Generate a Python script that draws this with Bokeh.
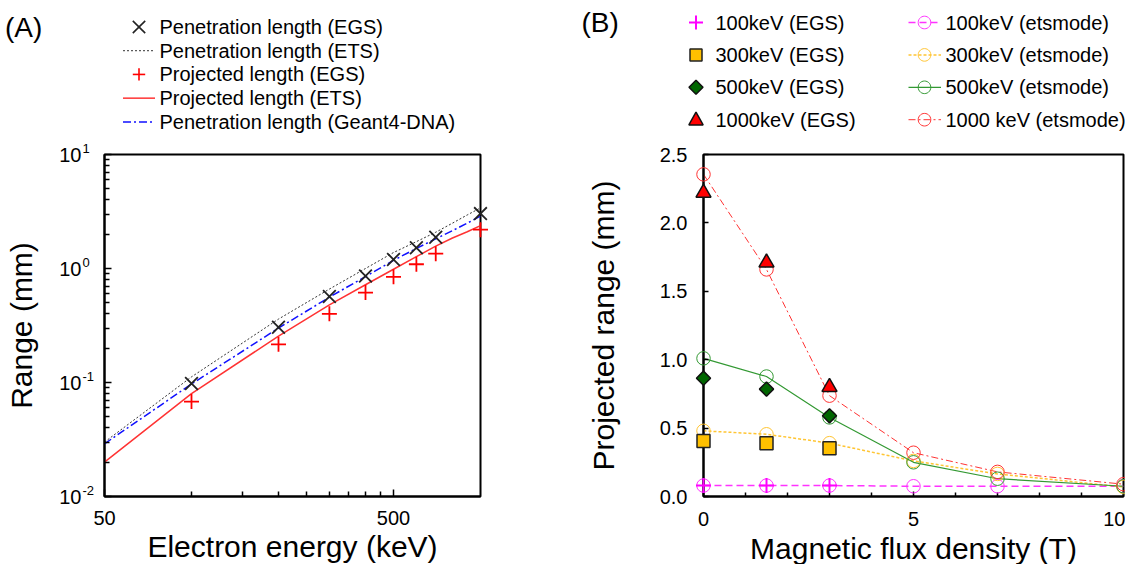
import math
from bokeh.plotting import figure
from bokeh.models import FixedTicker, PrintfTickFormatter, CustomJSTickFormatter
from bokeh.core.properties import value
from bokeh.layouts import row
from bokeh.embed import file_html
from bokeh.resources import INLINE

FONT = "Liberation Sans"

# ---------------- Panel A data ----------------
energy_pts = [100, 200, 300, 400, 500, 600, 700, 1000]
pen_egs = [0.098, 0.305, 0.567, 0.86, 1.20, 1.52, 1.88, 3.03]
proj_egs = [0.068, 0.216, 0.40, 0.615, 0.846, 1.09, 1.35, 2.19]

energy_line = [50, 100, 200, 300, 400, 500, 600, 700, 800, 900, 1000]
pen_ets = [0.030, 0.112, 0.36, 0.66, 1.0, 1.38, 1.72, 2.08, 2.5, 2.95, 3.4]
pen_g4 = [0.029, 0.097, 0.30, 0.56, 0.85, 1.18, 1.5, 1.82, 2.15, 2.5, 2.88]
proj_ets = [0.020, 0.080, 0.255, 0.48, 0.72, 0.985, 1.27, 1.57, 1.85, 2.1, 2.38]

a_xrange = (50, 1000)
a_yrange = (0.01, 10)
a_xticks = [50, 500]
a_xminor = [100, 150, 200, 250, 300, 350, 400, 450]
a_yexp = [-2, -1, 0, 1]
a_labels = ["Penetration length (EGS)", "Penetration length (ETS)", "Projected length (EGS)",
            "Projected length (ETS)", "Penetration length (Geant4-DNA)"]

# ---------------- Panel B data ----------------
field_ets = [0, 1.5, 3, 5, 7, 10]
ets_100 = [0.08, 0.08, 0.08, 0.075, 0.075, 0.075]
ets_300 = [0.48, 0.455, 0.39, 0.26, 0.165, 0.07]
ets_500 = [1.01, 0.877, 0.578, 0.25, 0.13, 0.075]
ets_1000 = [2.355, 1.66, 0.737, 0.32, 0.18, 0.09]

field_egs = [0, 1.5, 3]
egs_100 = [0.08, 0.08, 0.08]
egs_300 = [0.405, 0.39, 0.352]
egs_500 = [0.865, 0.785, 0.59]
egs_1000 = [2.22, 1.71, 0.80]

b_xrange = (0, 10)
b_yrange = (0, 2.5)
b_xticks = [0, 5, 10]
b_xminor = [1, 2, 3, 4, 6, 7, 8, 9]
b_yticks = [0, 0.5, 1.0, 1.5, 2.0, 2.5]
b_egs_labels = ["100keV (EGS)", "300keV (EGS)", "500keV (EGS)", "1000keV (EGS)"]
b_ets_labels = ["100keV (etsmode)", "300keV (etsmode)", "500keV (etsmode)", "1000 keV (etsmode)"]

# ---------------- styles ----------------
A_STYLES = {
    "pen_egs": dict(marker="x", size=18, line_color="#222222", line_width=1.8),
    "proj_egs": dict(marker="cross", size=15, line_color="#ff0000", line_width=1.8),
    "pen_ets": dict(line_color="#333333", line_dash="2 2", line_width=1),
    "g4": dict(line_color="#1010ff", line_dash="8 3 2 3", line_width=1.5),
    "proj_ets": dict(line_color="#ff3333", line_width=1.5),
}
B_EGS = [
    dict(marker="cross", size=15, line_color="#ff00ff", line_width=2),
    dict(marker="square", size=13, fill_color="#ffc000", line_color="#222222", line_width=1.5),
    dict(marker="square", size=10, angle=math.pi / 4, fill_color="#006600",
         line_color="#111111", line_width=1.5),
    dict(marker="triangle", size=15, fill_color="#ff0000", line_color="#111111", line_width=1.5),
]
B_ETS = [("#ff33ff", "7 4", 1.5), ("#ffc533", "3 2", 1.5),
         ("#339933", "solid", 1.2), ("#ff3333", "7 3 2 3", 1.0)]

# ---------------- layout (canvas pixels) ----------------
A_W, B_W, H = 572, 553, 564
A_BORDER = dict(left=104, right=92, top=151, bottom=67)
B_BORDER = dict(left=131, right=2, top=154, bottom=68)


def style_axes(p):
    p.xgrid.visible = False
    p.ygrid.visible = False
    p.outline_line_color = "black"
    p.outline_line_width = 2
    p.outline_line_alpha = 1
    for ax in (p.xaxis[0], p.yaxis[0]):
        ax.axis_line_width = 2
        ax.axis_line_color = "black"
        ax.major_tick_line_color = "black"
        ax.minor_tick_line_color = "black"
        ax.major_tick_line_width = 1.5
        ax.minor_tick_line_width = 1.5
        ax.major_tick_out = 0
        ax.minor_tick_out = 0
        ax.major_label_text_font = FONT
        ax.major_label_text_font_size = "20px"
        ax.major_label_text_color = "black"
        ax.axis_label_text_font = FONT
        ax.axis_label_text_font_size = "30px"
        ax.axis_label_text_font_style = "normal"
        ax.axis_label_text_color = "black"


def text(p, x, y, txt, size, align="left", baseline="middle", dx=0, dy=0):
    p.text(x=x, y=y, text=txt, x_offset=dx, y_offset=dy,
           text_font=value(FONT), text_font_size=value(size), text_color="black",
           text_align=align, text_baseline=baseline, level="overlay")


def make_mapper(width, border, xr, yr, xlog, ylog):
    """Canvas pixel -> data coordinate, used to draw the key outside the frame."""
    fw = width - border["left"] - border["right"]
    fh = H - border["top"] - border["bottom"]

    def conv(lo, hi, frac, log):
        if log:
            return 10 ** (math.log10(lo) + frac * (math.log10(hi) - math.log10(lo)))
        return lo + frac * (hi - lo)

    def fx(px):
        return conv(xr[0], xr[1], (px - border["left"]) / fw, xlog)

    def fy(py):
        return conv(yr[0], yr[1], (H - border["bottom"] - py) / fh, ylog)
    return fx, fy


def key_line(p, fx, fy, pts, **st):
    p.line([fx(x) for x, _ in pts], [fy(y) for _, y in pts], level="overlay", **st)


def key_poly(p, fx, fy, pts, **st):
    p.patch([fx(x) for x, _ in pts], [fy(y) for _, y in pts], level="overlay", **st)


def key_marker(p, fx, fy, cx, cy, marker, r, fill=None, line="#000000", lw=1.5):
    if marker == "x":
        key_line(p, fx, fy, [(cx - r, cy - r), (cx + r, cy + r)], line_color=line, line_width=lw)
        key_line(p, fx, fy, [(cx - r, cy + r), (cx + r, cy - r)], line_color=line, line_width=lw)
    elif marker == "cross":
        key_line(p, fx, fy, [(cx - r, cy), (cx + r, cy)], line_color=line, line_width=lw)
        key_line(p, fx, fy, [(cx, cy - r), (cx, cy + r)], line_color=line, line_width=lw)
    elif marker == "circle":
        pts = [(cx + r * math.cos(2 * math.pi * k / 28), cy + r * math.sin(2 * math.pi * k / 28))
               for k in range(29)]
        key_line(p, fx, fy, pts, line_color=line, line_width=lw)
    else:
        if marker == "square":
            pts = [(cx - r, cy - r), (cx + r, cy - r), (cx + r, cy + r), (cx - r, cy + r)]
        elif marker == "diamond":
            pts = [(cx, cy - r), (cx + r, cy), (cx, cy + r), (cx - r, cy)]
        else:  # triangle
            pts = [(cx, cy - r), (cx + r * 0.95, cy + r * 0.7), (cx - r * 0.95, cy + r * 0.7)]
        key_poly(p, fx, fy, pts, fill_color=fill, line_color=line, line_width=lw)


# ================= Panel A =================
pA = figure(width=A_W, height=H, x_axis_type="log", y_axis_type="log",
            x_range=a_xrange, y_range=a_yrange,
            output_backend="svg", toolbar_location=None,
            min_border_left=A_BORDER["left"], min_border_right=A_BORDER["right"],
            min_border_top=A_BORDER["top"], min_border_bottom=A_BORDER["bottom"])
style_axes(pA)
pA.xaxis.ticker = FixedTicker(ticks=a_xticks, minor_ticks=a_xminor)
pA.xaxis.formatter = PrintfTickFormatter(format="%d")
pA.xaxis.major_tick_in = 7
pA.xaxis.minor_tick_in = 5
pA.xaxis.major_label_standoff = 14

y_minor = [k * 10.0 ** e for e in a_yexp[:-1] for k in range(2, 10)]
pA.yaxis.ticker = FixedTicker(ticks=[10.0 ** e for e in a_yexp], minor_ticks=y_minor)
pA.yaxis.formatter = CustomJSTickFormatter(code="return '10';")
pA.yaxis.major_tick_in = 7
pA.yaxis.minor_tick_in = 5
pA.yaxis.major_label_standoff = 23
pA.yaxis.axis_label = "Range (mm)"
pA.yaxis.axis_label_standoff = 18

# exponents of the y tick labels
text(pA, [a_xrange[0]] * len(a_yexp), [10.0 ** e for e in a_yexp],
     [str(e) for e in a_yexp], "13px", dx=-22, dy=-6)

pA.line(energy_line, pen_ets, **A_STYLES["pen_ets"])
pA.line(energy_line, pen_g4, **A_STYLES["g4"])
pA.line(energy_line, proj_ets, **A_STYLES["proj_ets"])
pA.scatter(energy_pts, pen_egs, level="overlay", **A_STYLES["pen_egs"])
pA.scatter(energy_pts, proj_egs, level="overlay", **A_STYLES["proj_egs"])

fxA, fyA = make_mapper(A_W, A_BORDER, a_xrange, a_yrange, True, True)
text(pA, [fxA(292)], [fyA(548)], ["Electron energy (keV)"], "30px", align="center")
text(pA, [fxA(4.5)], [fyA(22.5)], ["(A)"], "28px")

# key for panel A
a_kinds = ["pen_egs", "pen_ets", "proj_egs", "proj_ets", "g4"]
for i, (kind, lab) in enumerate(zip(a_kinds, a_labels)):
    cy = 22 + 24 * i
    st = A_STYLES[kind]
    if "marker" in st:
        key_marker(pA, fxA, fyA, 138.5, cy, st["marker"], 6.2, line=st["line_color"],
                   lw=1.6)
    else:
        key_line(pA, fxA, fyA, [(122.5, cy), (154.5, cy)], **st)
    text(pA, [fxA(159)], [fyA(cy)], [lab], "20px")

# ================= Panel B =================
pB = figure(width=B_W, height=H, x_range=b_xrange, y_range=b_yrange,
            output_backend="svg", toolbar_location=None,
            min_border_left=B_BORDER["left"], min_border_right=B_BORDER["right"],
            min_border_top=B_BORDER["top"], min_border_bottom=B_BORDER["bottom"])
style_axes(pB)
pB.xaxis.ticker = FixedTicker(ticks=b_xticks, minor_ticks=b_xminor)
pB.xaxis.formatter = PrintfTickFormatter(format="%d")
pB.xaxis.major_tick_in = 5
pB.xaxis.minor_tick_in = 4
pB.xaxis.major_label_standoff = 15
pB.yaxis.ticker = FixedTicker(ticks=b_yticks, minor_ticks=[])
pB.yaxis.formatter = PrintfTickFormatter(format="%.1f")
pB.yaxis.major_tick_in = 5
pB.yaxis.major_label_standoff = 16
pB.yaxis.axis_label = "Projected range (mm)"
pB.yaxis.axis_label_standoff = 37

ets_vals = [ets_100, ets_300, ets_500, ets_1000]
egs_vals = [egs_100, egs_300, egs_500, egs_1000]

for vals, (col, dash, lw) in zip(ets_vals, B_ETS):
    pB.line(field_ets, vals, line_color=col, line_dash=dash, line_width=lw)
    pB.scatter(field_ets, vals, marker="circle", size=13.5, fill_color=None,
               line_color=col, line_width=1, level="overlay")
for vals, st in zip(egs_vals, B_EGS):
    pB.scatter(field_egs, vals, level="overlay", **st)

fxB, fyB = make_mapper(B_W, B_BORDER, b_xrange, b_yrange, False, False)
text(pB, [sum(b_xrange) / 2], [fyB(548)], ["Magnetic flux density (T)"], "30px", align="center")
text(pB, [fxB(9)], [fyB(22)], ["(B)"], "28px")

# key for panel B
b_key_shapes = [("cross", 7), ("square", 6), ("diamond", 7), ("triangle", 7.5)]
for i in range(4):
    cy = 22 + 32.4 * i
    st = B_EGS[i]
    shape, r = b_key_shapes[i]
    key_marker(pB, fxB, fyB, 123.5, cy, shape, r, fill=st.get("fill_color"),
               line=st["line_color"], lw=st["line_width"])
    text(pB, [fxB(143)], [fyB(cy)], [b_egs_labels[i]], "20px")
    col, dash, lw = B_ETS[i]
    key_line(pB, fxB, fyB, [(336, cy), (368.5, cy)], line_color=col, line_dash=dash,
             line_width=lw)
    key_marker(pB, fxB, fyB, 352, cy, "circle", 6.3, line=col, lw=1)
    text(pB, [fxB(373)], [fyB(cy)], [b_ets_labels[i]], "20px")

layout = row(pA, pB)
open("out.html", "w").write(file_html(layout, INLINE))
